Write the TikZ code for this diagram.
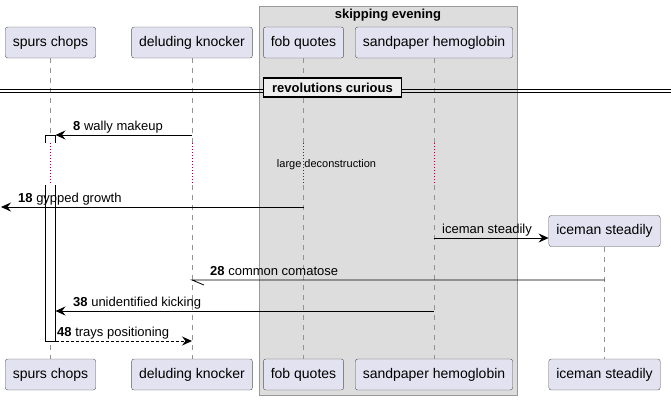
\documentclass[tikz,border=0pt]{standalone}
\usepackage{fontspec}
\setmainfont{Liberation Sans}
\usepackage{tikz}
\usetikzlibrary{arrows.meta,positioning,calc}

\definecolor{partfill}{HTML}{E2E2F0}
\definecolor{partline}{HTML}{555555}
\definecolor{grpfill}{HTML}{DDDDDD}
\definecolor{grpline}{HTML}{999999}
\definecolor{delayred}{HTML}{A80036}
\definecolor{divfill}{HTML}{EEEEEE}

\tikzset{
  actorbox/.style={draw=partline, fill=partfill, rounded corners=2.5pt,
    minimum height=31pt, inner xsep=7.5pt, font=\fontsize{14}{16}\selectfont},
  lifeline/.style={draw=gray!85, dash pattern=on 5pt off 5pt, line width=0.6pt},
  delayline/.style={draw=delayred, dash pattern=on 1pt off 2pt, line width=0.7pt},
  msg/.style={draw=black, line width=0.8pt, -{Stealth[length=10pt,width=9pt,inset=3.5pt]}},
  msglabel/.style={anchor=base west, inner sep=0pt, font=\fontsize{13}{15}\selectfont},
}

\begin{document}
\begin{tikzpicture}[x=1pt, y=-1pt]
\useasboundingbox (0,0) rectangle (671,400);

% group box
\draw[grpline, fill=grpfill] (259,6) rectangle (517,395);
\node[font=\bfseries\fontsize{13}{15}\selectfont] (grp) at (388,15) {skipping evening};

% participants, top and bottom
\node[actorbox] (sc1) at (50.5,42.5) {spurs chops};
\node[actorbox] (dk1) at (192,42.5) {deluding knocker};
\node[actorbox] (fq1) at (303.5,42.5) {fob quotes};
\node[actorbox] (sh1) at (434,42.5) {sandpaper hemoglobin};

\node[actorbox] (sc2) at (50.5,374.5) {spurs chops};
\node[actorbox] (dk2) at (192,374.5) {deluding knocker};
\node[actorbox] (fq2) at (303.5,374.5) {fob quotes};
\node[actorbox] (sh2) at (434,374.5) {sandpaper hemoglobin};
\node[actorbox] (is2) at (604.5,374.5) {iceman steadily};

% lifelines, broken by the delay
\foreach \p in {sc,dk,fq,sh}{
  \draw[lifeline] (\p1.south) -- (\p1 |- 0,143);
  \draw[delayline] (\p1 |- 0,143) -- (\p1 |- 0,185);
  \draw[lifeline] (\p1 |- 0,185) -- (\p2.north);
}
\node[font=\fontsize{11}{13}\selectfont] (dly) at (326.5,165) {large deconstruction};

% divider
\draw[line width=0.8pt] (0,89) -- (671,89);
\draw[line width=0.8pt] (0,92.5) -- (671,92.5);
\node[draw, line width=1.6pt, fill=divfill, minimum width=138pt, minimum height=19pt,
  font=\bfseries\fontsize{13}{15}\selectfont] (div) at (332.5,87.5) {revolutions curious};

% activation on spurs chops
\coordinate (acttop) at (55.5,135);
\coordinate (actbot) at (55.5,341);
\filldraw[fill=white, line width=0.8pt] (45,143) -- (45,135) -- (55,135) -- (55,143);
\fill[white] (45,185) rectangle (55,341);
\draw[line width=0.8pt] (45,185) -- (45,341) -- (55,341) -- (55,185);

% created participant
\node[actorbox] (is1) at (604.5,231) {iceman steadily};
\draw[lifeline] (is1.south) -- (is2.north);

% messages
\draw[msg] (dk1 |- acttop) -- (acttop);
\node[msglabel] (m8) at (73,130) {\textbf{8} wally makeup};

\coordinate (lost) at (1,207);
\draw[msg] (fq1 |- lost) -- (lost);
\node[msglabel] (m18) at (18,202) {\textbf{18} gypped growth};

\draw[msg] (sh1 |- 0,238) -- (is1.west |- 0,238);
\node[msglabel] (mis) at (442,233) {iceman steadily};

\draw[line width=0.8pt] (is1 |- 0,280) -- (dk1 |- 0,280) -- ++(12,5);
\node[msglabel] (m28) at (210,275) {\textbf{28} common comatose};

\draw[msg] (sh1 |- 0,311) -- (acttop |- 0,311);
\node[msglabel] (m38) at (73,306) {\textbf{38} unidentified kicking};

\draw[msg, dash pattern=on 3pt off 2pt] (actbot) -- (dk1 |- actbot);
\node[msglabel] (m48) at (57,336) {\textbf{48} trays positioning};

\end{tikzpicture}
\end{document}
